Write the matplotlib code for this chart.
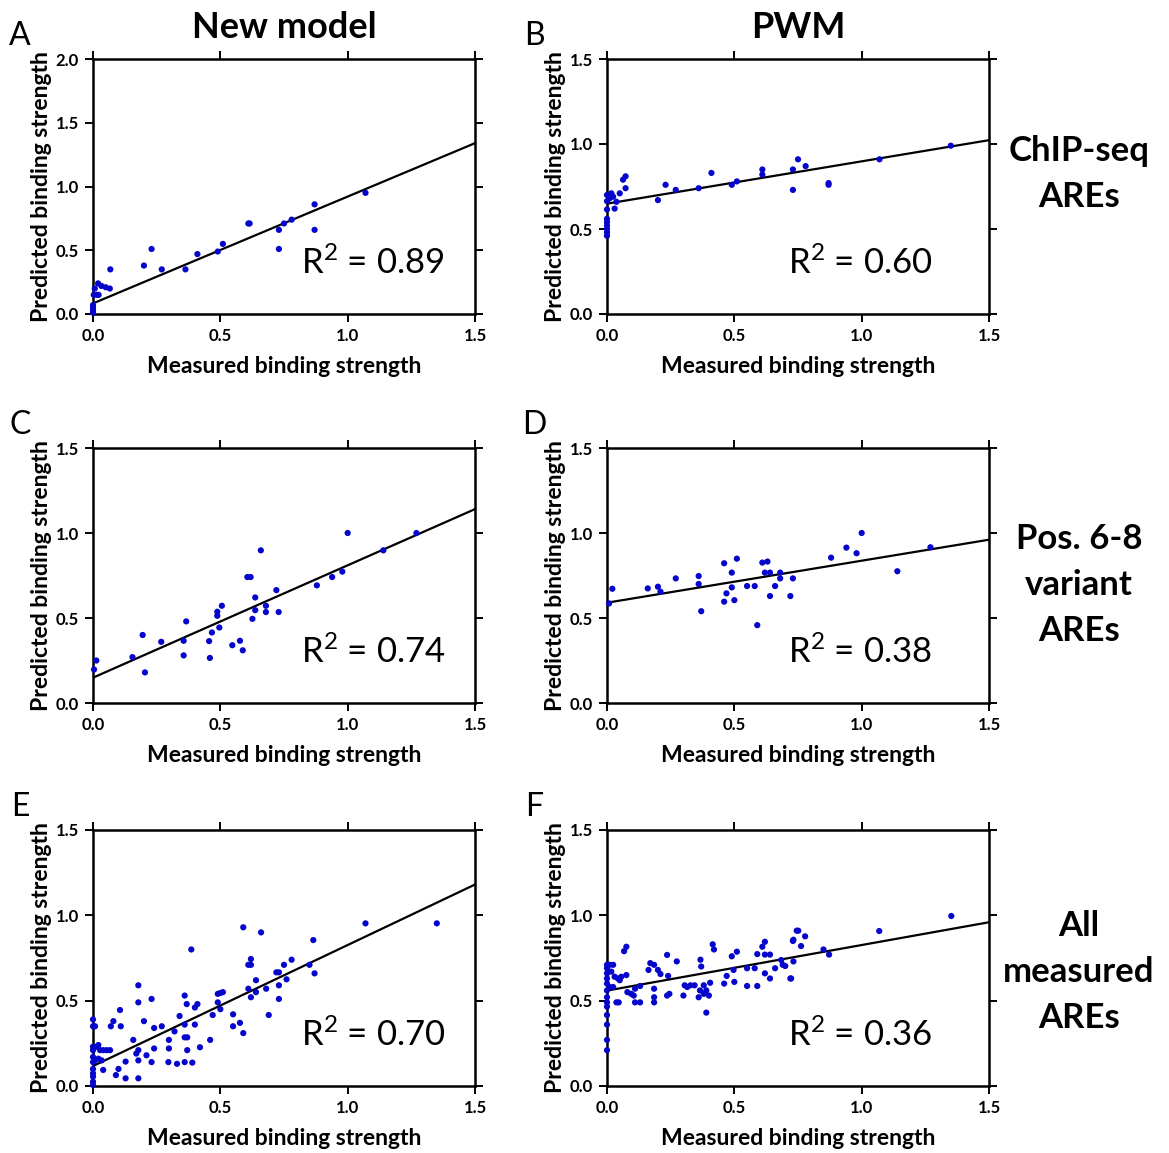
import numpy as np
import matplotlib
matplotlib.use("Agg")
import matplotlib.pyplot as plt

plt.rcParams["font.family"] = ["Lato", "DejaVu Sans"]
plt.rcParams["mathtext.fontset"] = "custom"
plt.rcParams["mathtext.rm"] = "Lato"
plt.rcParams["mathtext.it"] = "Lato:italic"
plt.rcParams["mathtext.bf"] = "Lato:bold"

# ---------- values ----------
# A: new model, ChIP-seq AREs
A_x = [0.0, 0.0, 0.0, 0.0, 0.003, 0.015, 0.022, 0.007, 0.02, 0.033, 0.05, 0.066,
       0.068, 0.20, 0.23, 0.27, 0.363, 0.41, 0.49, 0.51, 0.61, 0.615, 0.73, 0.73,
       0.75, 0.78, 0.87, 0.87, 1.07]
A_y = [0.01, 0.03, 0.05, 0.07, 0.15, 0.15, 0.15, 0.20, 0.24, 0.22, 0.21, 0.20,
       0.35, 0.38, 0.51, 0.35, 0.35, 0.47, 0.49, 0.55, 0.71, 0.71, 0.66, 0.51,
       0.71, 0.74, 0.86, 0.66, 0.95]

# B: PWM, ChIP-seq AREs
B_x = [0.0, 0.0, 0.0, 0.0, 0.0, 0.0, 0.0, 0.0, 0.0, 0.01, 0.017, 0.024, 0.03,
       0.037, 0.05, 0.063, 0.073, 0.073, 0.20, 0.23, 0.27, 0.36, 0.41, 0.49,
       0.51, 0.61, 0.61, 0.73, 0.73, 0.75, 0.78, 0.87, 0.87, 1.07, 1.35]
B_y = [0.46, 0.48, 0.50, 0.52, 0.54, 0.56, 0.615, 0.664, 0.70, 0.68, 0.71, 0.69,
       0.62, 0.66, 0.71, 0.79, 0.81, 0.74, 0.67, 0.76, 0.73, 0.74, 0.83, 0.76,
       0.78, 0.85, 0.82, 0.85, 0.73, 0.91, 0.87, 0.77, 0.76, 0.91, 0.99]

# C: new model, pos. 6-8 variants
C_x = [0.004, 0.013, 0.155, 0.195, 0.204, 0.268, 0.356, 0.356, 0.366, 0.456,
       0.459, 0.467, 0.488, 0.488, 0.496, 0.506, 0.547, 0.577, 0.588, 0.606,
       0.619, 0.626, 0.637, 0.637, 0.659, 0.679, 0.679, 0.72, 0.729, 0.879,
       0.939, 0.979, 1.0, 1.14, 1.27]
C_y = [0.197, 0.25, 0.27, 0.40, 0.18, 0.36, 0.366, 0.28, 0.48, 0.364, 0.265,
       0.415, 0.537, 0.513, 0.444, 0.572, 0.34, 0.366, 0.31, 0.741, 0.741, 0.495,
       0.621, 0.546, 0.898, 0.572, 0.535, 0.664, 0.535, 0.692, 0.741, 0.773, 1.0,
       0.898, 1.0]

# D: PWM, pos. 6-8 variants
D_x = [0.008, 0.021, 0.16, 0.20, 0.21, 0.27, 0.36, 0.36, 0.37, 0.46, 0.46,
       0.469, 0.49, 0.49, 0.50, 0.51, 0.55, 0.58, 0.59, 0.61, 0.62, 0.63, 0.64,
       0.64, 0.66, 0.68, 0.68, 0.72, 0.73, 0.88, 0.94, 0.98, 1.0, 1.14, 1.27]
D_y = [0.586, 0.672, 0.674, 0.684, 0.655, 0.733, 0.747, 0.70, 0.54, 0.822,
       0.596, 0.645, 0.767, 0.68, 0.605, 0.849, 0.688, 0.688, 0.458, 0.826,
       0.767, 0.832, 0.767, 0.629, 0.688, 0.767, 0.733, 0.629, 0.733, 0.855,
       0.914, 0.881, 1.0, 0.775, 0.916]

# E: new model, all measured AREs
E_x = [0.0, 0.0, 0.0, 0.0, 0.0, 0.0, 0.0, 0.0, 0.0, 0.0, 0.0, 0.008, 0.014,
       0.021, 0.028, 0.041, 0.054, 0.067, 0.008, 0.021, 0.034, 0.04, 0.07, 0.08,
       0.09, 0.10, 0.106, 0.109, 0.128, 0.128, 0.158, 0.17, 0.178, 0.178, 0.178,
       0.178, 0.178, 0.20, 0.21, 0.23, 0.23, 0.24, 0.24, 0.27, 0.296, 0.298,
       0.298, 0.32, 0.33, 0.34, 0.36, 0.36, 0.36, 0.368, 0.37, 0.37, 0.36, 0.39,
       0.40, 0.41, 0.40, 0.42, 0.386, 0.46, 0.47, 0.49, 0.49, 0.50, 0.51, 0.50,
       0.55, 0.55, 0.577, 0.59, 0.59, 0.61, 0.62, 0.62, 0.62, 0.61, 0.64, 0.64,
       0.66, 0.68, 0.69, 0.72, 0.73, 0.73, 0.73, 0.75, 0.76, 0.78, 0.85, 0.865,
       0.87, 1.07, 1.35]
E_y = [0.006, 0.025, 0.055, 0.074, 0.10, 0.14, 0.17, 0.21, 0.23, 0.35, 0.39,
       0.35, 0.23, 0.24, 0.21, 0.21, 0.21, 0.21, 0.15, 0.16, 0.15, 0.094, 0.35,
       0.38, 0.064, 0.10, 0.445, 0.35, 0.045, 0.143, 0.27, 0.19, 0.21, 0.59,
       0.49, 0.15, 0.045, 0.38, 0.18, 0.14, 0.51, 0.22, 0.34, 0.35, 0.14, 0.22,
       0.27, 0.32, 0.13, 0.41, 0.53, 0.14, 0.285, 0.48, 0.21, 0.285, 0.36, 0.137,
       0.46, 0.48, 0.36, 0.227, 0.80, 0.27, 0.416, 0.49, 0.54, 0.545, 0.55, 0.45,
       0.42, 0.35, 0.37, 0.31, 0.93, 0.71, 0.71, 0.744, 0.52, 0.57, 0.62, 0.55,
       0.90, 0.57, 0.416, 0.666, 0.666, 0.59, 0.51, 0.71, 0.625, 0.74, 0.71,
       0.855, 0.66, 0.953, 0.953]

# F: PWM, all measured AREs
F_x = [0.0, 0.0, 0.0, 0.0, 0.0, 0.0, 0.0, 0.0, 0.0, 0.0, 0.0, 0.0, 0.0, 0.01,
       0.024, 0.017, 0.03, 0.043, 0.05, 0.056, 0.076, 0.01, 0.024, 0.037, 0.046,
       0.067, 0.076, 0.08, 0.095, 0.105, 0.11, 0.11, 0.13, 0.13, 0.163, 0.17,
       0.185, 0.185, 0.185, 0.185, 0.2, 0.21, 0.236, 0.24, 0.236, 0.245, 0.274,
       0.30, 0.305, 0.315, 0.328, 0.344, 0.36, 0.365, 0.367, 0.37, 0.38, 0.38,
       0.39, 0.39, 0.405, 0.40, 0.415, 0.42, 0.46, 0.47, 0.49, 0.51, 0.497, 0.50,
       0.55, 0.58, 0.55, 0.59, 0.59, 0.61, 0.62, 0.62, 0.64, 0.62, 0.64, 0.66,
       0.69, 0.72, 0.73, 0.745, 0.684, 0.70, 0.723, 0.732, 0.732, 0.751, 0.778,
       0.762, 0.85, 0.872, 1.069, 1.352]
F_y = [0.21, 0.27, 0.36, 0.416, 0.465, 0.49, 0.52, 0.56, 0.60, 0.63, 0.66,
       0.69, 0.71, 0.71, 0.71, 0.67, 0.64, 0.63, 0.62, 0.64, 0.65, 0.58, 0.58,
       0.49, 0.49, 0.79, 0.816, 0.55, 0.54, 0.53, 0.57, 0.49, 0.49, 0.586, 0.68,
       0.72, 0.71, 0.57, 0.52, 0.49, 0.68, 0.656, 0.768, 0.645, 0.53, 0.54, 0.73,
       0.53, 0.59, 0.58, 0.59, 0.59, 0.52, 0.56, 0.74, 0.70, 0.54, 0.59, 0.56,
       0.43, 0.605, 0.53, 0.83, 0.80, 0.60, 0.645, 0.76, 0.787, 0.68, 0.61, 0.69,
       0.69, 0.586, 0.586, 0.773, 0.816, 0.845, 0.77, 0.77, 0.66, 0.63, 0.69,
       0.71, 0.63, 0.85, 0.91, 0.738, 0.703, 0.63, 0.73, 0.857, 0.91, 0.877,
       0.82, 0.80, 0.77, 0.908, 0.996]

# linear fits drawn in each panel: intercept, slope
FIT_INTERCEPT = [0.083, 0.649, 0.149, 0.590, 0.117, 0.559]
FIT_SLOPE = [0.838, 0.249, 0.661, 0.247, 0.709, 0.267]
R2_LABELS = ["0.89", "0.60", "0.74", "0.38", "0.70", "0.36"]
PANEL_LETTERS = ["A", "B", "C", "D", "E", "F"]
Y_MAX = [2.0, 1.5, 1.5, 1.5, 1.5, 1.5]
COL_TITLES = ["New model", "PWM"]
ROW_LABELS = ["ChIP-seq\nAREs", "Pos. 6-8\nvariant\nAREs", "All\nmeasured\nAREs"]

X_DATA = [A_x, B_x, C_x, D_x, E_x, F_x]
Y_DATA = [A_y, B_y, C_y, D_y, E_y, F_y]

DOT = "#0505cc"

W, H = 1169, 1153
fig = plt.figure(figsize=(W / 100, H / 100), dpi=100)

# axes boxes in pixels: left, top, right, bottom
col_px = [(93, 475), (607, 989)]
row_px = [(59, 314), (448, 703), (830, 1086)]
row_label_y = [174, 585, 972]

for i in range(6):
    r, c = divmod(i, 2)
    x0, x1 = col_px[c]
    y0, y1 = row_px[r]
    ax = fig.add_axes([x0 / W, 1 - y1 / H, (x1 - x0) / W, (y1 - y0) / H])

    ax.scatter(X_DATA[i], Y_DATA[i], s=20, color=DOT, edgecolors="none",
               zorder=3, clip_on=False)
    xl = np.array([0.0, 1.5])
    ax.plot(xl, FIT_INTERCEPT[i] + FIT_SLOPE[i] * xl, color="black", lw=1.6,
            zorder=2)

    ax.set_xlim(0, 1.5)
    ax.set_ylim(0, Y_MAX[i])
    ax.set_xticks(np.arange(0, 1.51, 0.5))
    ax.set_yticks(np.arange(0, Y_MAX[i] + 0.01, 0.5))
    ax.xaxis.set_major_formatter("{x:.1f}")
    ax.yaxis.set_major_formatter("{x:.1f}")
    ax.tick_params(direction="out", top=True, right=True, length=6, width=1.4,
                   labelsize=12, pad=4)
    for lab in ax.get_xticklabels() + ax.get_yticklabels():
        lab.set_fontweight("bold")
    for sp in ax.spines.values():
        sp.set_linewidth(1.8)

    ax.set_xlabel("Measured binding strength", fontsize=16.5, fontweight="bold",
                  labelpad=9)
    ax.set_ylabel("Predicted binding strength", fontsize=16.5, fontweight="bold",
                  labelpad=3)

    ax.text(0.545 if c == 0 else 0.475, 0.20, "R$^{2}$ = " + R2_LABELS[i],
            transform=ax.transAxes, fontsize=25, ha="left", va="center")

    fig.text((x0 - 73) / W, 1 - (y0 - 23) / H, PANEL_LETTERS[i], fontsize=23,
             ha="center", va="center")

for c, title in enumerate(COL_TITLES):
    x0, x1 = col_px[c]
    fig.text((x0 + x1) / 2 / W, 1 - 27 / H, title, fontsize=26,
             fontweight="bold", ha="center", va="center")

for r, lab in enumerate(ROW_LABELS):
    fig.text(1079 / W, 1 - row_label_y[r] / H, lab, fontsize=25,
             fontweight="bold", ha="center", va="center", linespacing=1.55)

fig.savefig("out.png", dpi=100)
